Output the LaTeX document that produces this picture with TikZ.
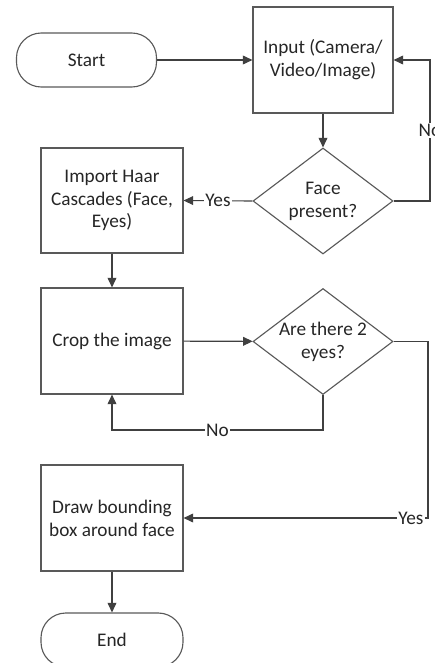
\documentclass[tikz,border=0pt]{standalone}
\usepackage{fontspec}
\setmainfont{Carlito}
\usetikzlibrary{shapes.geometric,arrows.meta}

\begin{document}
\begin{tikzpicture}[
    box/.style={draw=black!65, line width=0.8pt, minimum width=3.5cm, minimum height=2.65cm, align=center, inner sep=2pt},
    term/.style={draw=black!65, line width=0.8pt, minimum width=3.5cm, minimum height=1.35cm, rounded corners=0.62cm},
    decide/.style={draw=black!65, line width=0.8pt, diamond, aspect=1.32, minimum width=3.5cm, minimum height=2.65cm, inner sep=0pt, align=center},
    arr/.style={draw=black!75, line width=0.8pt, -{Triangle[length=0.24cm, width=0.22cm]}},
    lbl/.style={fill=white, inner sep=1pt},
    font=\fontsize{13.7}{16.2}\selectfont, text=black!85
  ]
    \useasboundingbox (0, 0) rectangle (10.85, -16.575);

    \node[term] (start) at (2.1625, -1.5) {Start};
    \node[box] (input) at (8.075, -1.5) {Input (Camera/\\Video/Image)};
    \node[decide] (face) at (8.075, -5.025) {Face\\present?};
    \node[box, minimum width=3.55cm, minimum height=2.625cm] (haar) at (2.8, -5.0125) {Import Haar\\Cascades (Face,\\Eyes)};
    \node[box, minimum width=3.55cm] (crop) at (2.8, -8.525) {Crop the image};
    \node[decide] (eyes) at (8.075, -8.5375) {Are there 2\\eyes?};
    \node[box, minimum width=3.55cm] (bbox) at (2.8, -12.95) {Draw bounding\\box around face};
    \node[term, minimum width=3.55cm] (end) at (2.8, -16.0) {End};

    \coordinate (noturn) at (10.75, -5.025);
    \coordinate (yesturn) at (10.7, -8.5375);
    \coordinate (nobottom) at (8.075, -10.75);

    \draw[arr] (start) -- (input);
    \draw[arr] (input) -- (face);
    \draw[arr] (face.east) -- (noturn) -- node[lbl] {No} (noturn |- input.east) -- (input.east);
    \draw[arr] (face.west) -- node[lbl] {Yes} (haar.east);
    \draw[arr] (haar) -- (crop);
    \draw[arr] (crop) -- (eyes);
    \draw[arr] (eyes.south) -- (nobottom) -- node[lbl] {No} (crop.south |- nobottom) -- (crop.south);
    \draw[arr] (eyes.east) -- (yesturn) -- (yesturn |- bbox.east) -- node[lbl, pos=0.07] {Yes} (bbox.east);
    \draw[arr] (bbox) -- (end);

  \end{tikzpicture}
\end{document}
